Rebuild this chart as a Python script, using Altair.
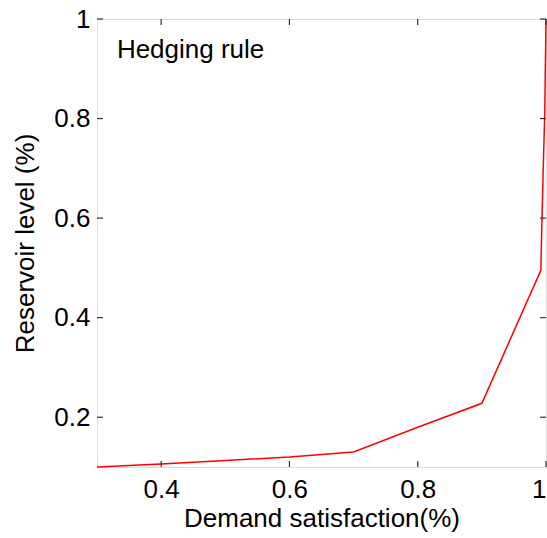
import altair as alt
import pandas as pd

# Hedging rule curve
demand = [0.30, 0.40, 0.50, 0.60, 0.70, 0.80, 0.90, 0.992, 0.993, 0.9955, 0.9955, 0.998, 0.998, 1.0]
level = [0.100, 0.106, 0.113, 0.120, 0.130, 0.180, 0.228, 0.495, 0.560, 0.690, 0.690, 0.808, 0.808, 1.0]

x_ticks = [0.4, 0.6, 0.8, 1.0]
y_ticks = [0.2, 0.4, 0.6, 0.8, 1.0]
x_domain = [0.3, 1.0]
y_domain = [0.1, 1.0]
annotation = "Hedging rule"
x_title = "Demand satisfaction(%)"
y_title = "Reservoir level (%)"

W, H = 449, 448
FONT = "Liberation Sans"
FS = 26
TICK = 6

df = pd.DataFrame({"x": demand, "y": level, "i": list(range(len(demand)))})
xt = pd.DataFrame({"x": x_ticks})
yt = pd.DataFrame({"y": y_ticks})

xs = alt.Scale(domain=x_domain, nice=False, zero=False)
ys = alt.Scale(domain=y_domain, nice=False, zero=False)

lbl = "datum.value == 1 ? '1' : format(datum.value, '.1f')"

line = alt.Chart(df).mark_line(color="#ff0000", strokeWidth=1.5).encode(
    x=alt.X("x:Q", scale=xs, axis=alt.Axis(
        values=x_ticks, labelExpr=lbl, title=x_title, tickSize=0, domain=False, grid=False,
        labelFont=FONT, labelFontSize=FS, labelColor="black", labelPadding=9,
        titleFont=FONT, titleFontSize=FS, titleFontWeight="normal", titleColor="black", titlePadding=3)),
    y=alt.Y("y:Q", scale=ys, axis=alt.Axis(
        values=y_ticks, labelExpr=lbl, title=y_title, tickSize=0, domain=False, grid=False,
        labelFont=FONT, labelFontSize=FS, labelColor="black", labelPadding=7,
        titleFont=FONT, titleFontSize=FS, titleFontWeight="normal", titleColor="black", titlePadding=15)),
    order="i:Q",
)

tick_color = "#333333"
bx = alt.Chart(xt).mark_rule(color=tick_color, strokeWidth=1.2).encode(
    x=alt.X("x:Q", scale=xs), y=alt.value(H), y2=alt.value(H - TICK))
tx = alt.Chart(xt).mark_rule(color=tick_color, strokeWidth=1.2).encode(
    x=alt.X("x:Q", scale=xs), y=alt.value(0), y2=alt.value(TICK))
ly = alt.Chart(yt).mark_rule(color=tick_color, strokeWidth=1.2).encode(
    y=alt.Y("y:Q", scale=ys), x=alt.value(0), x2=alt.value(TICK))
ry = alt.Chart(yt).mark_rule(color=tick_color, strokeWidth=1.2).encode(
    y=alt.Y("y:Q", scale=ys), x=alt.value(W - TICK), x2=alt.value(W))

ann = alt.Chart(pd.DataFrame({"x": [0.331], "y": [0.922], "t": [annotation]})).mark_text(
    align="left", baseline="alphabetic", font=FONT, fontSize=FS, color="black").encode(
    x=alt.X("x:Q", scale=xs), y=alt.Y("y:Q", scale=ys), text="t:N")

chart = alt.layer(line, bx, tx, ly, ry, ann).properties(
    width=W, height=H,
    autosize=alt.AutoSizeParams(type="none"),
    padding={"left": 97, "top": 19, "right": 1, "bottom": 71},
).configure_view(stroke="#333333", strokeWidth=1.5).configure(background="white")

chart.save("out.html", embed_options={"renderer": "svg", "actions": False})
